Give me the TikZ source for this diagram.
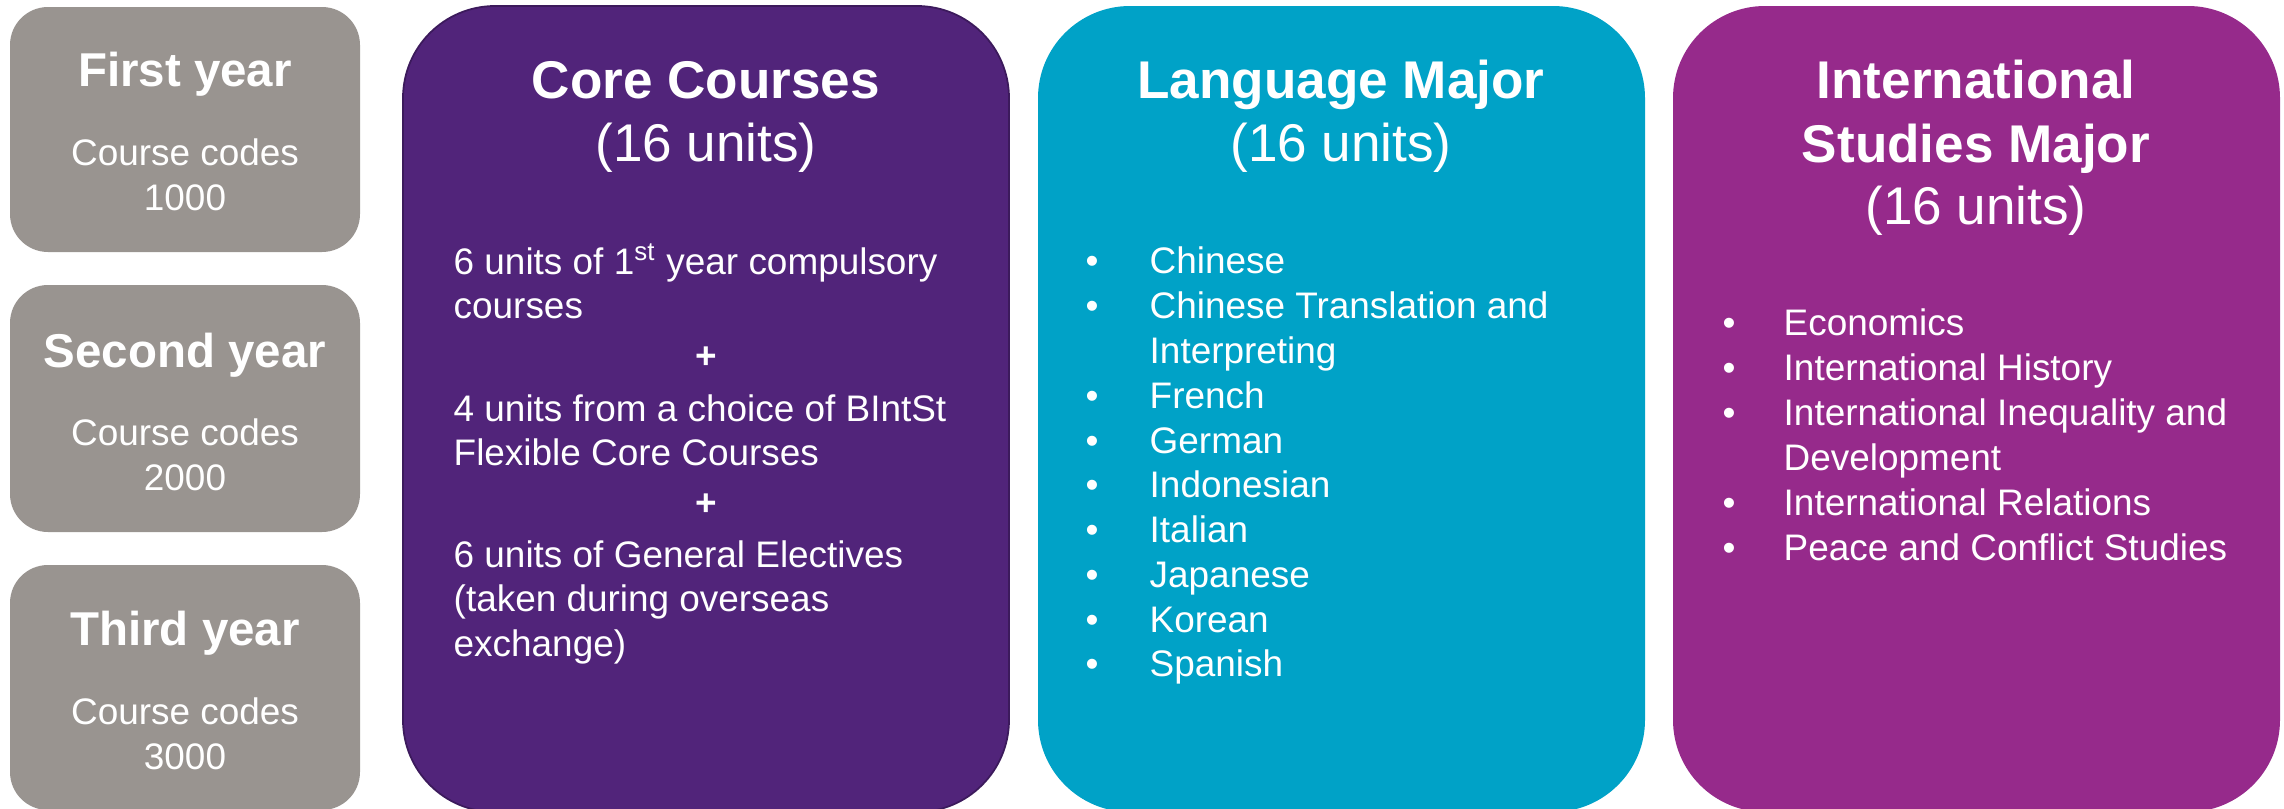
\documentclass[tikz,border=0pt]{standalone}
\usepackage{fontspec}
\setmainfont{Liberation Sans}

\definecolor{uqgrey}{HTML}{999490}
\definecolor{uqpurple}{HTML}{51247A}
\definecolor{uqpurpledark}{HTML}{3C1A5C}
\definecolor{uqblue}{HTML}{00A2C7}
\definecolor{uqmagenta}{HTML}{962A8B}

\tikzset{
	txt/.style={text=white, inner sep=0pt},
	boxhead/.style={txt, anchor=base, font=\fontsize{15.1}{18.5}\selectfont\bfseries},
	boxunits/.style={txt, anchor=base, font=\fontsize{15.1}{18.5}\selectfont},
	yearhead/.style={txt, anchor=base, font=\fontsize{13.5}{16}\selectfont\bfseries},
	yearcode/.style={txt, anchor=base, font=\fontsize{10.5}{12.5}\selectfont},
	listitem/.style={txt, anchor=base west, font=\fontsize{10.5}{12.8}\selectfont},
	listdot/.style={txt, anchor=base, font=\fontsize{10.5}{12.8}\selectfont},
}

\begin{document}
\begin{tikzpicture}[x=0.01cm, y=-0.01cm]
	\useasboundingbox (0,0) rectangle (2284,809);

	% year boxes
	\fill[uqgrey, rounded corners=0.38cm] (10,7) rectangle (360,252);
	\fill[uqgrey, rounded corners=0.38cm] (10,285) rectangle (360,532);
	\fill[uqgrey, rounded corners=0.38cm] (10,565) rectangle (360,810);

	\node[yearhead] (first)     at (185, 86)  {First year};
	\node[yearcode] (firstcode) at (185, 165) {Course codes};
	\node[yearcode] (firstnum)  at (185, 210) {1000};

	\node[yearhead] (second)     at (185, 367) {Second year};
	\node[yearcode] (secondcode) at (185, 445) {Course codes};
	\node[yearcode] (secondnum)  at (185, 490) {2000};

	\node[yearhead] (third)     at (185, 645) {Third year};
	\node[yearcode] (thirdcode) at (185, 724) {Course codes};
	\node[yearcode] (thirdnum)  at (185, 769) {3000};

	% the three big boxes
	\filldraw[fill=uqpurple, draw=uqpurpledark, line width=0.5pt, rounded corners=0.92cm] (403,6) rectangle (1009,812);
	\fill[uqblue, rounded corners=0.92cm] (1038,6) rectangle (1645,812);
	\fill[uqmagenta, rounded corners=0.92cm] (1673,6) rectangle (2280,812);

	% core
	\node[boxhead]  (corehead)  at (706, 98)  {Core Courses};
	\node[boxunits] (coreunits) at (706, 161) {(16 units)};

	\node[listitem] (core1)  at (453, 274) {6 units of 1\textsuperscript{st} year compulsory};
	\node[listitem] (core1b) at (453, 318) {courses};
	\node[listdot]  (plus1)  at (706, 368) {\textbf{+}};
	\node[listitem] (core2)  at (453, 421) {4 units from a choice of BIntSt};
	\node[listitem] (core2b) at (453, 465) {Flexible Core Courses};
	\node[listdot]  (plus2)  at (706, 515) {\textbf{+}};
	\node[listitem] (core3)  at (453, 567) {6 units of General Electives};
	\node[listitem] (core3b) at (453, 611) {(taken during overseas};
	\node[listitem] (core3c) at (453, 656) {exchange)};

	% language
	\node[boxhead]  (langhead)  at (1341, 98)  {Language Major};
	\node[boxunits] (langunits) at (1341, 161) {(16 units)};

	\node[listdot]  (ld1)  at (1092, 273) {\textbullet};
	\node[listitem] (l1)   at (1149, 273) {Chinese};
	\node[listdot]  (ld2)  at (1092, 318) {\textbullet};
	\node[listitem] (l2)   at (1149, 318) {Chinese Translation and};
	\node[listitem] (l2b)  at (1149, 363) {Interpreting};
	\node[listdot]  (ld3)  at (1092, 408) {\textbullet};
	\node[listitem] (l3)   at (1149, 408) {French};
	\node[listdot]  (ld4)  at (1092, 453) {\textbullet};
	\node[listitem] (l4)   at (1149, 453) {German};
	\node[listdot]  (ld5)  at (1092, 497) {\textbullet};
	\node[listitem] (l5)   at (1149, 497) {Indonesian};
	\node[listdot]  (ld6)  at (1092, 542) {\textbullet};
	\node[listitem] (l6)   at (1149, 542) {Italian};
	\node[listdot]  (ld7)  at (1092, 587) {\textbullet};
	\node[listitem] (l7)   at (1149, 587) {Japanese};
	\node[listdot]  (ld8)  at (1092, 632) {\textbullet};
	\node[listitem] (l8)   at (1149, 632) {Korean};
	\node[listdot]  (ld9)  at (1092, 676) {\textbullet};
	\node[listitem] (l9)   at (1149, 676) {Spanish};

	% international studies
	\node[boxhead]  (inthead)   at (1976, 98)  {International};
	\node[boxhead]  (inthead2)  at (1976, 162) {Studies Major};
	\node[boxunits] (intunits)  at (1976, 224) {(16 units)};

	\node[listdot]  (id1) at (1729, 335) {\textbullet};
	\node[listitem] (i1)  at (1783, 335) {Economics};
	\node[listdot]  (id2) at (1729, 380) {\textbullet};
	\node[listitem] (i2)  at (1783, 380) {International History};
	\node[listdot]  (id3) at (1729, 425) {\textbullet};
	\node[listitem] (i3)  at (1783, 425) {International Inequality and};
	\node[listitem] (i3b) at (1783, 470) {Development};
	\node[listdot]  (id4) at (1729, 515) {\textbullet};
	\node[listitem] (i4)  at (1783, 515) {International Relations};
	\node[listdot]  (id5) at (1729, 560) {\textbullet};
	\node[listitem] (i5)  at (1783, 560) {Peace and Conflict Studies};
\end{tikzpicture}
\end{document}
